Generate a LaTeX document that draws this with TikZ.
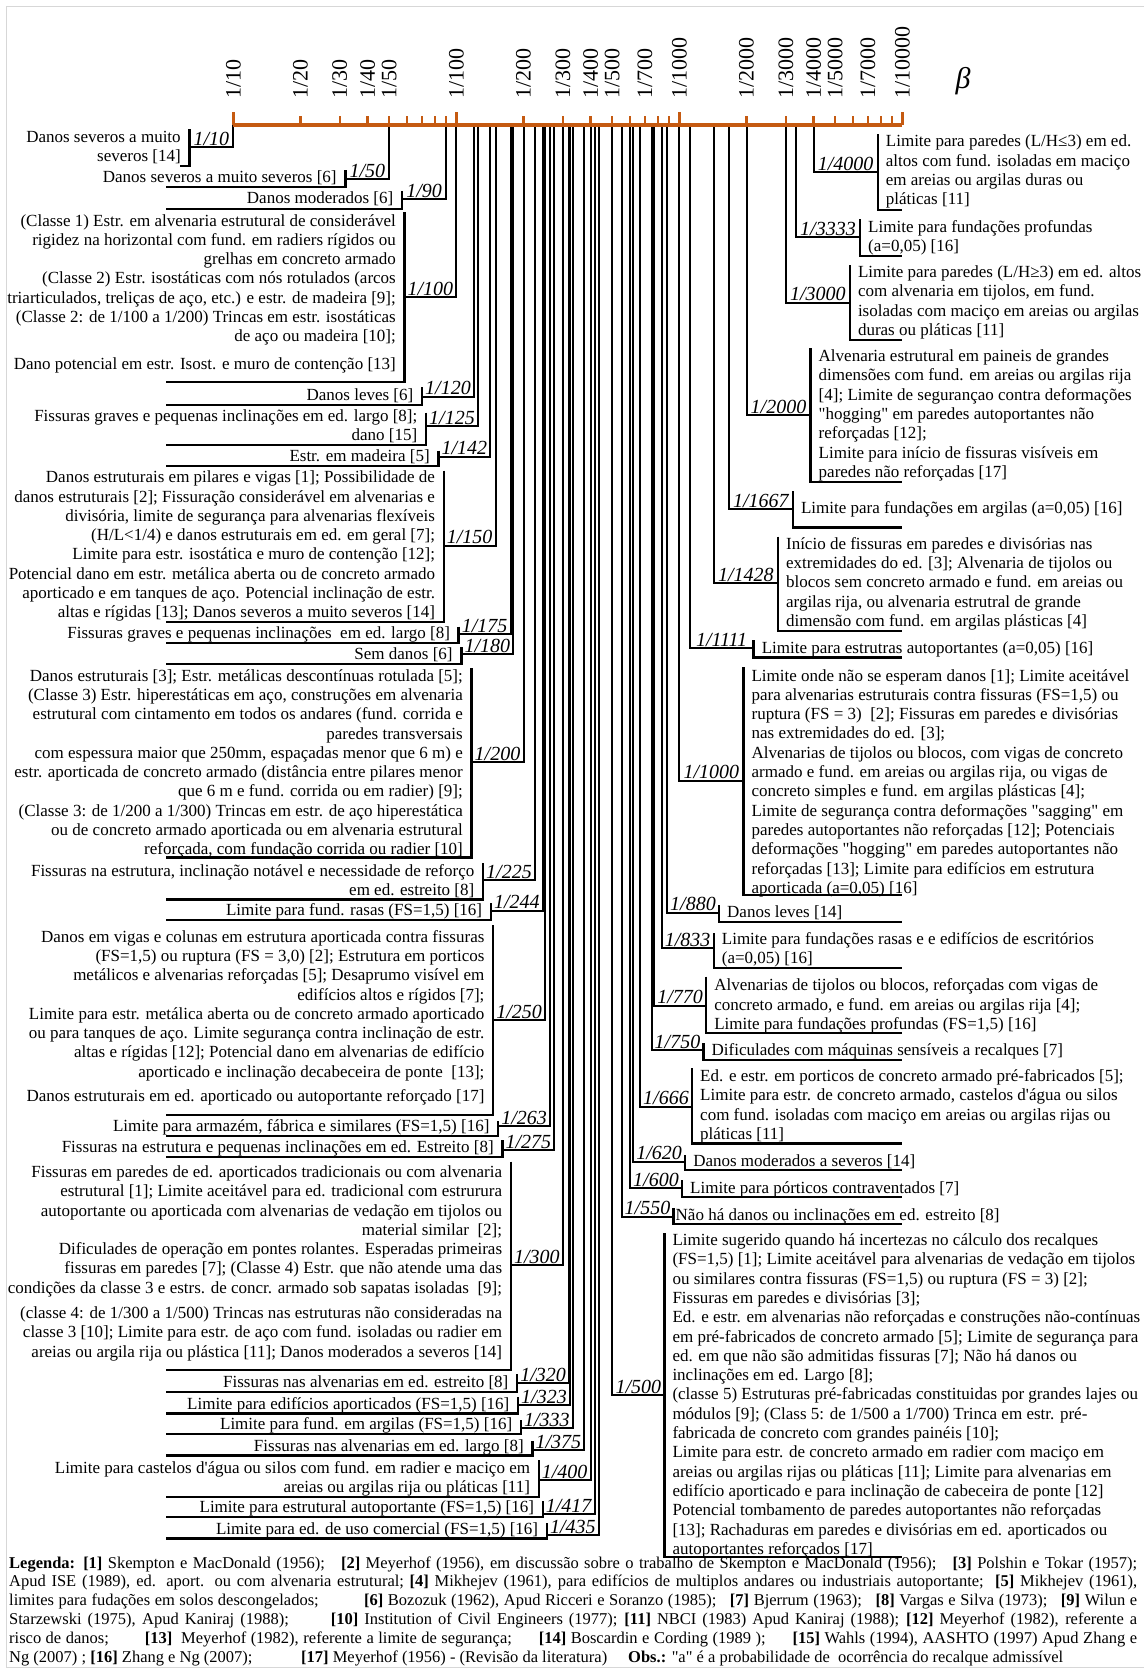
\documentclass[tikz,border=0pt]{standalone}
\usepackage{fontspec}
\setmainfont{Liberation Serif}[Ligatures=TeXOff]
\usetikzlibrary{calc}
\definecolor{axisorange}{RGB}{197,90,17}
\definecolor{pagegray}{RGB}{215,215,215}
% depth of the last text line, so the block bottom sits at a known place
\newcommand{\lastd}{\rule[-5pt]{0pt}{5pt}}
% left entry: [underline start]{N}{bracket x}{connector y}{bracket top}{underline y}{last baseline}{text}
\newcommand{\Lent}[8][166]{%
  \pgfmathsetmacro{\xx}{233.4+223*(log10(#2)-1)}%
  \coordinate (a#2) at (\xx,125);
  \coordinate (j#2) at (#3,#4);
  \coordinate (bt#2) at (#3,#5);
  \coordinate (bb#2) at (#3,#6);
  \coordinate (ue#2) at (#1,#6);
  \draw[drop] (a#2) |- (j#2);
  \draw[brk] (bt#2) -- (bb#2) -- (ue#2);
  \node[lbl] (l#2) at ({(\xx+#3)/2},{#4-2}) {1/#2};
  \node[txt,align=right,anchor=south east] (t#2) at ({#3-8.5},{#7+5}) {#8\lastd};
}
% right entry: [text gap]{N}{bracket x}{connector y}{bracket top}{underline y}{last baseline}{text}
\newcommand{\Rent}[8][8]{%
  \pgfmathsetmacro{\xx}{233.4+223*(log10(#2)-1)}%
  \coordinate (a#2) at (\xx,125);
  \coordinate (j#2) at (#3,#4);
  \coordinate (bt#2) at (#3,#5);
  \coordinate (bb#2) at (#3,#6);
  \coordinate (ue#2) at (902.4,#6);
  \draw[drop] (a#2) |- (j#2);
  \draw[brk] (bt#2) -- (bb#2) -- (ue#2);
  \node[lbl] (l#2) at ({(\xx+#3)/2},{#4-2}) {1/#2};
  \node[txt,align=left,anchor=south west] (t#2) at ({#3+#1},{#7+5}) {#8\lastd};
}
\begin{document}
\begin{tikzpicture}[x=1pt,y=-1pt,
  drop/.style={line width=2pt},
  brk/.style={line width=2.4pt},
  txt/.style={inner sep=0pt,font=\fontsize{17}{19.3}\selectfont},
  lbl/.style={inner sep=0pt,anchor=base,font=\fontsize{20}{22}\selectfont\itshape},
  axl/.style={rotate=90,anchor=west,inner sep=0pt,font=\fontsize{22}{24}\selectfont},
  leg/.style={inner sep=0pt,anchor=base west,font=\fontsize{16.5}{18.8}\selectfont},
  tickminor/.style={draw=axisorange,line width=2.4pt},
  tickmajor/.style={draw=axisorange,line width=3.4pt},
  axisline/.style={draw=axisorange,line width=4pt},
  pageframe/.style={draw=pagegray,line width=1.5pt}]
\useasboundingbox (0,0) rectangle (1144,1670);
\fill[white] (0,0) rectangle (1144,1670);
\draw[pageframe] (1144,6.5) -- (6.5,6.5) -- (6.5,1667.5) -- (1144,1667.5);

% ---------------- entries on the left side ----------------
\Lent[180]{10}{189.4}{147}{129}{166}{161.7}{Danos severos a muito\\severos [14]}
\Lent{50}{345.3}{179}{170}{187}{183}{Danos severos a muito severos [6]}
\Lent{90}{402}{199.3}{191}{209}{204}{Danos moderados [6]}
\Lent{100}{404.5}{297}{212}{381.7}{369.3}{(Classe 1) Estr. em alvenaria estrutural de considerável\\rigidez na horizontal com fund. em radiers rígidos ou\\grelhas em concreto armado\\(Classe 2) Estr. isostáticas com nós rotulados (arcos\\triarticulados, treliças de aço, etc.) e estr. de madeira [9];\\(Classe 2: de 1/100 a 1/200) Trincas em estr. isostáticas\\de aço ou madeira [10];\\[8pt]Dano potencial em estr. Isost. e muro de contenção [13]}
\Lent{120}{422}{396.7}{387}{405}{400.7}{Danos leves [6]}
\Lent{125}{426}{426}{412.7}{445}{441}{Fissuras graves e pequenas inclinações em ed. largo [8];\\dano [15]}
\Lent{142}{438.4}{456.7}{450.7}{466}{461.7}{Estr. em madeira [5]}
\Lent{150}{443.7}{545.7}{470.7}{621.7}{618}{Danos estruturais em pilares e vigas [1]; Possibilidade de\\danos estruturais [2]; Fissuração considerável em alvenarias e\\divisória, limite de segurança para alvenarias flexíveis\\(H/L<1/4) e danos estruturais em ed. em geral [7];\\Limite para estr. isostática e muro de contenção [12];\\Potencial dano em estr. metálica aberta ou de concreto armado\\aporticado e em tanques de aço. Potencial inclinação de estr.\\altas e rígidas [13]; Danos severos a muito severos [14]}
\Lent{175}{458.6}{634}{626.7}{642.7}{639}{Fissuras graves e pequenas inclinações\ \ em ed. largo [8]}
\Lent{180}{461.3}{654}{647.3}{664}{660}{Sem danos [6]}
\Lent{200}{471.5}{762.3}{668.3}{857.3}{855}{Danos estruturais [3]; Estr. metálicas descontínuas rotulada [5];\\(Classe 3) Estr. hiperestáticas em aço, construções em alvenaria\\estrutural com cintamento em todos os andares (fund. corrida e\\paredes transversais\\com espessura maior que 250mm, espaçadas menor que 6 m) e\\estr. aporticada de concreto armado (distância entre pilares menor\\que 6 m e fund. corrida ou em radier) [9];\\(Classe 3: de 1/200 a 1/300) Trincas em estr. de aço hiperestática\\ou de concreto armado aporticada ou em alvenaria estrutural\\reforçada, com fundação corrida ou radier [10]}
\Lent{225}{483}{880}{863.3}{899.3}{895.5}{Fissuras na estrutura, inclinação notável e necessidade de reforço\\em ed. estreito [8]}
\Lent{244}{490.8}{910.7}{903.3}{920}{916}{Limite para fund. rasas (FS=1,5) [16]}
\Lent{250}{493.1}{1020}{925}{1115}{1101.7}{Danos em vigas e colunas em estrutura aporticada contra fissuras\\(FS=1,5) ou ruptura (FS = 3,0) [2]; Estrutura em porticos\\metálicos e alvenarias reforçadas [5]; Desaprumo visível em\\edifícios altos e rígidos [7];\\Limite para estr. metálica aberta ou de concreto armado aporticado\\ou para tanques de aço. Limite segurança contra inclinação de estr.\\altas e rígidas [12]; Potencial dano em alvenarias de edifício\\aporticado e inclinação decabeceira de ponte\ \ [13];\\[5pt]Danos estruturais em ed. aporticado ou autoportante reforçado [17]}
\Lent{263}{498.1}{1126}{1121}{1136}{1132}{Limite para armazém, fábrica e similares (FS=1,5) [16]}
\Lent{275}{502.4}{1150}{1140}{1157}{1153}{Fissuras na estrutura e pequenas inclinações em ed. Estreito [8]}
\Lent{300}{510.8}{1265}{1161.7}{1370}{1357.3}{Fissuras em paredes de ed. aporticados tradicionais ou com alvenaria\\estrutural [1]; Limite aceitável para ed. tradicional com estrurura\\autoportante ou aporticada com alvenarias de vedação em tijolos ou\\material similar\ \ [2];\\Dificulades de operação em pontes rolantes. Esperadas primeiras\\fissuras em paredes [7]; (Classe 4) Estr. que não atende uma das\\condições da classe 3 e estrs. de concr. armado sob sapatas isoladas\ \ [9];\\[6pt](classe 4: de 1/300 a 1/500) Trincas nas estruturas não consideradas na\\classe 3 [10]; Limite para estr. de aço com fund. isoladas ou radier em\\areias ou argila rija ou plástica [11]; Danos moderados a severos [14]}
\Lent{320}{517}{1383.3}{1374}{1391.7}{1388}{Fissuras nas alvenarias em ed. estreito [8]}
\Lent{323}{518}{1405}{1397}{1413.5}{1409.5}{Limite para edifícios aporticados (FS=1,5) [16]}
\Lent{333}{520.9}{1428}{1420}{1434}{1430}{Limite para fund. em argilas (FS=1,5) [16]}
\Lent{375}{532.4}{1450}{1441}{1455.5}{1451.5}{Fissuras nas alvenarias em ed. largo [8]}
\Lent{400}{538.7}{1480}{1460}{1496.7}{1492.5}{Limite para castelos d'água ou silos com fund. em radier e maciço em\\areias ou argilas rija ou pláticas [11]}
\Lent{417}{542.7}{1514}{1501}{1517}{1513}{Limite para estrutural autoportante (FS=1,5) [16]}
\Lent{435}{546.8}{1535}{1523}{1538.5}{1534.5}{Limite para ed. de uso comercial (FS=1,5) [16]}

% ---------------- entries on the right side ----------------
\Rent{4000}{877.7}{172.3}{134.3}{210}{205}{Limite para paredes (L/H≤3) em ed.\\altos com fund. isoladas em maciço\\em areias ou argilas duras ou\\pláticas [11]}
\Rent{3333}{860}{237.3}{219.3}{256}{252}{Limite para fundações profundas\\(a=0,05) [16]}
\Rent{3000}{849.8}{302.7}{265}{340}{335.5}{Limite para paredes (L/H≥3) em ed. altos\\com alvenaria em tijolos, em fund.\\isoladas com maciço em areias ou argilas\\duras ou pláticas [11]}
\Rent{2000}{810.5}{415}{348.3}{481.7}{477.5}{Alvenaria estrutural em paineis de grandes\\dimensões com fund. em areias ou argilas rija\\{}[4]; Limite de segurançao contra deformações\\"hogging" em paredes autoportantes não\\reforçadas [12];\\Limite para início de fissuras visíveis em\\paredes não reforçadas [17]}
\Rent{1667}{792.9}{509.3}{491}{527.3}{514}{Limite para fundações em argilas (a=0,05) [16]}
\Rent{1428}{777.9}{583.3}{536.7}{630.7}{626.5}{Início de fissuras em paredes e divisórias nas\\extremidades do ed. [3]; Alvenaria de tijolos ou\\blocos sem concreto armado e fund. em areias ou\\argilas rija, ou alvenaria estrutral de grande\\dimensão com fund. em argilas plásticas [4]}
\Rent{1111}{753.6}{648.3}{640}{657.3}{654}{Limite para estrutras autoportantes (a=0,05) [16]}
\Rent{1000}{743.4}{780.7}{667.3}{895}{893.5}{Limite onde não se esperam danos [1]; Limite aceitável\\para alvenarias estruturais contra fissuras (FS=1,5) ou\\ruptura (FS = 3)\ \ [2]; Fissuras em paredes e divisórias\\nas extremidades do ed. [3];\\Alvenarias de tijolos ou blocos, com vigas de concreto\\armado e fund. em areias ou argilas rija, ou vigas de\\concreto simples e fund. em argilas plásticas [4];\\Limite de segurança contra deformações "sagging" em\\paredes autoportantes não reforçadas [12]; Potenciais\\deformações "hogging" em paredes autoportantes não\\reforçadas [13]; Limite para edifícios em estrutura\\aporticada (a=0,05) [16]}
\Rent{880}{719}{912.7}{905}{921.7}{917.5}{Danos leves [14]}
\Rent{833}{713.7}{948.3}{933.3}{967.7}{964}{Limite para fundações rasas e e edifícios de escritórios\\(a=0,05) [16]}
\Rent{770}{706.1}{1005.7}{976.7}{1032.7}{1029.5}{Alvenarias de tijolos ou blocos, reforçadas com vigas de\\concreto armado, e fund. em areias ou argilas rija [4];\\Limite para fundações profundas (FS=1,5) [16]}
\Rent{750}{703.5}{1050}{1043.3}{1060}{1056}{Dificulades com máquinas sensíveis a recalques [7]}
\Rent{666}{692}{1106.7}{1068.3}{1143.3}{1139.5}{Ed. e estr. em porticos de concreto armado pré-fabricados [5];\\Limite para estr. de concreto armado, castelos d'água ou silos\\com fund. isoladas com maciço em areias ou argilas rijas ou\\pláticas [11]}
\Rent{620}{685.1}{1161.7}{1155}{1170}{1167}{Danos moderados a severos [14]}
\Rent{600}{682}{1188.3}{1180}{1196.7}{1193.5}{Limite para pórticos contraventados [7]}
\Rent[2]{550}{673.5}{1216.7}{1208}{1224}{1220.5}{Não há danos ou inclinações em ed. estreito [8]}
\Rent{500}{664.3}{1395}{1233.3}{1556.7}{1554.5}{Limite sugerido quando há incertezas no cálculo dos recalques\\(FS=1,5) [1]; Limite aceitável para alvenarias de vedação em tijolos\\ou similares contra fissuras (FS=1,5) ou ruptura (FS = 3) [2];\\Fissuras em paredes e divisórias [3];\\Ed. e estr. em alvenarias não reforçadas e construções não-contínuas\\em pré-fabricados de concreto armado [5]; Limite de segurança para\\ed. em que não são admitidas fissuras [7]; Não há danos ou\\inclinações em ed. Largo [8];\\(classe 5) Estruturas pré-fabricadas constituidas por grandes lajes ou\\módulos [9]; (Class 5: de 1/500 a 1/700) Trinca em estr. pré-\\fabricada de concreto com grandes painéis [10];\\Limite para estr. de concreto armado em radier com maciço em\\areias ou argilas rijas ou pláticas [11]; Limite para alvenarias em\\edifício aporticado e para inclinação de cabeceira de ponte [12]\\Potencial tombamento de paredes autoportantes não reforçadas\\{}[13]; Rachaduras em paredes e divisórias em ed. aporticados ou\\autoportantes reforçados [17]}

% ---------------- logarithmic beta axis ----------------
\coordinate (ax0) at (233.4,125);
\coordinate (ax1) at (902.4,125);
\draw[axisline] (ax0) -- (ax1);
\foreach \d in {0,1,2}{
  \foreach \k in {2,...,9}{
    \draw[tickminor] ({233.4+223*(\d+log10(\k))},125) -- ++(0,-9);
  }
}
\foreach \d in {0,1,2,3}{
  \draw[tickmajor] ({233.4+223*\d},125) -- ++(0,-13.5);
}
\foreach \n in {10,20,30,40,50,100,200,300,400,500,700,1000,2000,3000,4000,5000,7000,10000}{
  \node[axl] (x\n) at ({233.4+223*(log10(\n)-1)},99) {1/\n};
}
\node[inner sep=0pt,font=\fontsize{30}{30}\selectfont\itshape] (beta) at (963,81) {β};

% ---------------- references ----------------
\node[leg] (lg1) at (9,1568) {\makebox[1128pt][s]{\textbf{Legenda:} \textbf{[1]} Skempton e MacDonald (1956);~~~\textbf{[2]} Meyerhof (1956), em discussão sobre o trabalho de Skempton e MacDonald (1956);~~~\textbf{[3]} Polshin e Tokar (1957);}};
\node[leg] (lg2) at (9,1586.8) {\makebox[1128pt][s]{Apud ISE (1989), ed. aport. ou com alvenaria estrutural;~\textbf{[4]} Mikhejev (1961), para edifícios de multiplos andares ou industriais autoportante;~~\textbf{[5]} Mikhejev (1961),}};
\node[leg] (lg3) at (9,1605.6) {\makebox[1128pt][s]{limites para fudações em solos descongelados;~~~~~~~~~~\textbf{[6]} Bozozuk (1962), Apud Ricceri e Soranzo (1985);~~~\textbf{[7]} Bjerrum (1963);~~~\textbf{[8]} Vargas e Silva (1973);~~~\textbf{[9]} Wilun e}};
\node[leg] (lg4) at (9,1624.4) {\makebox[1128pt][s]{Starzewski (1975), Apud Kaniraj (1988);~~~~~~~\textbf{[10]} Institution of Civil Engineers (1977); \textbf{[11]} NBCI (1983) Apud Kaniraj (1988); \textbf{[12]} Meyerhof (1982), referente a}};
\node[leg] (lg5) at (9,1643.2) {\makebox[1128pt][s]{risco de danos;~~~~~~~~\textbf{[13]}~~Meyerhof (1982), referente a limite de segurança;~~~~~~\textbf{[14]} Boscardin e Cording (1989 );~~~~~~\textbf{[15]} Wahls (1994), AASHTO (1997) Apud Zhang e}};
\node[leg] (lg6a) at (9,1662) {Ng (2007) ; \textbf{[16]} Zhang e Ng (2007);};
\node[leg] (lg6b) at (301,1662) {\textbf{[17]} Meyerhof (1956) - (Revisão da literatura)};
\node[leg] (lg6c) at (628,1662) {\textbf{Obs.:} "a" é a probabilidade de~~ocorrência do recalque admissível};
\end{tikzpicture}
\end{document}
